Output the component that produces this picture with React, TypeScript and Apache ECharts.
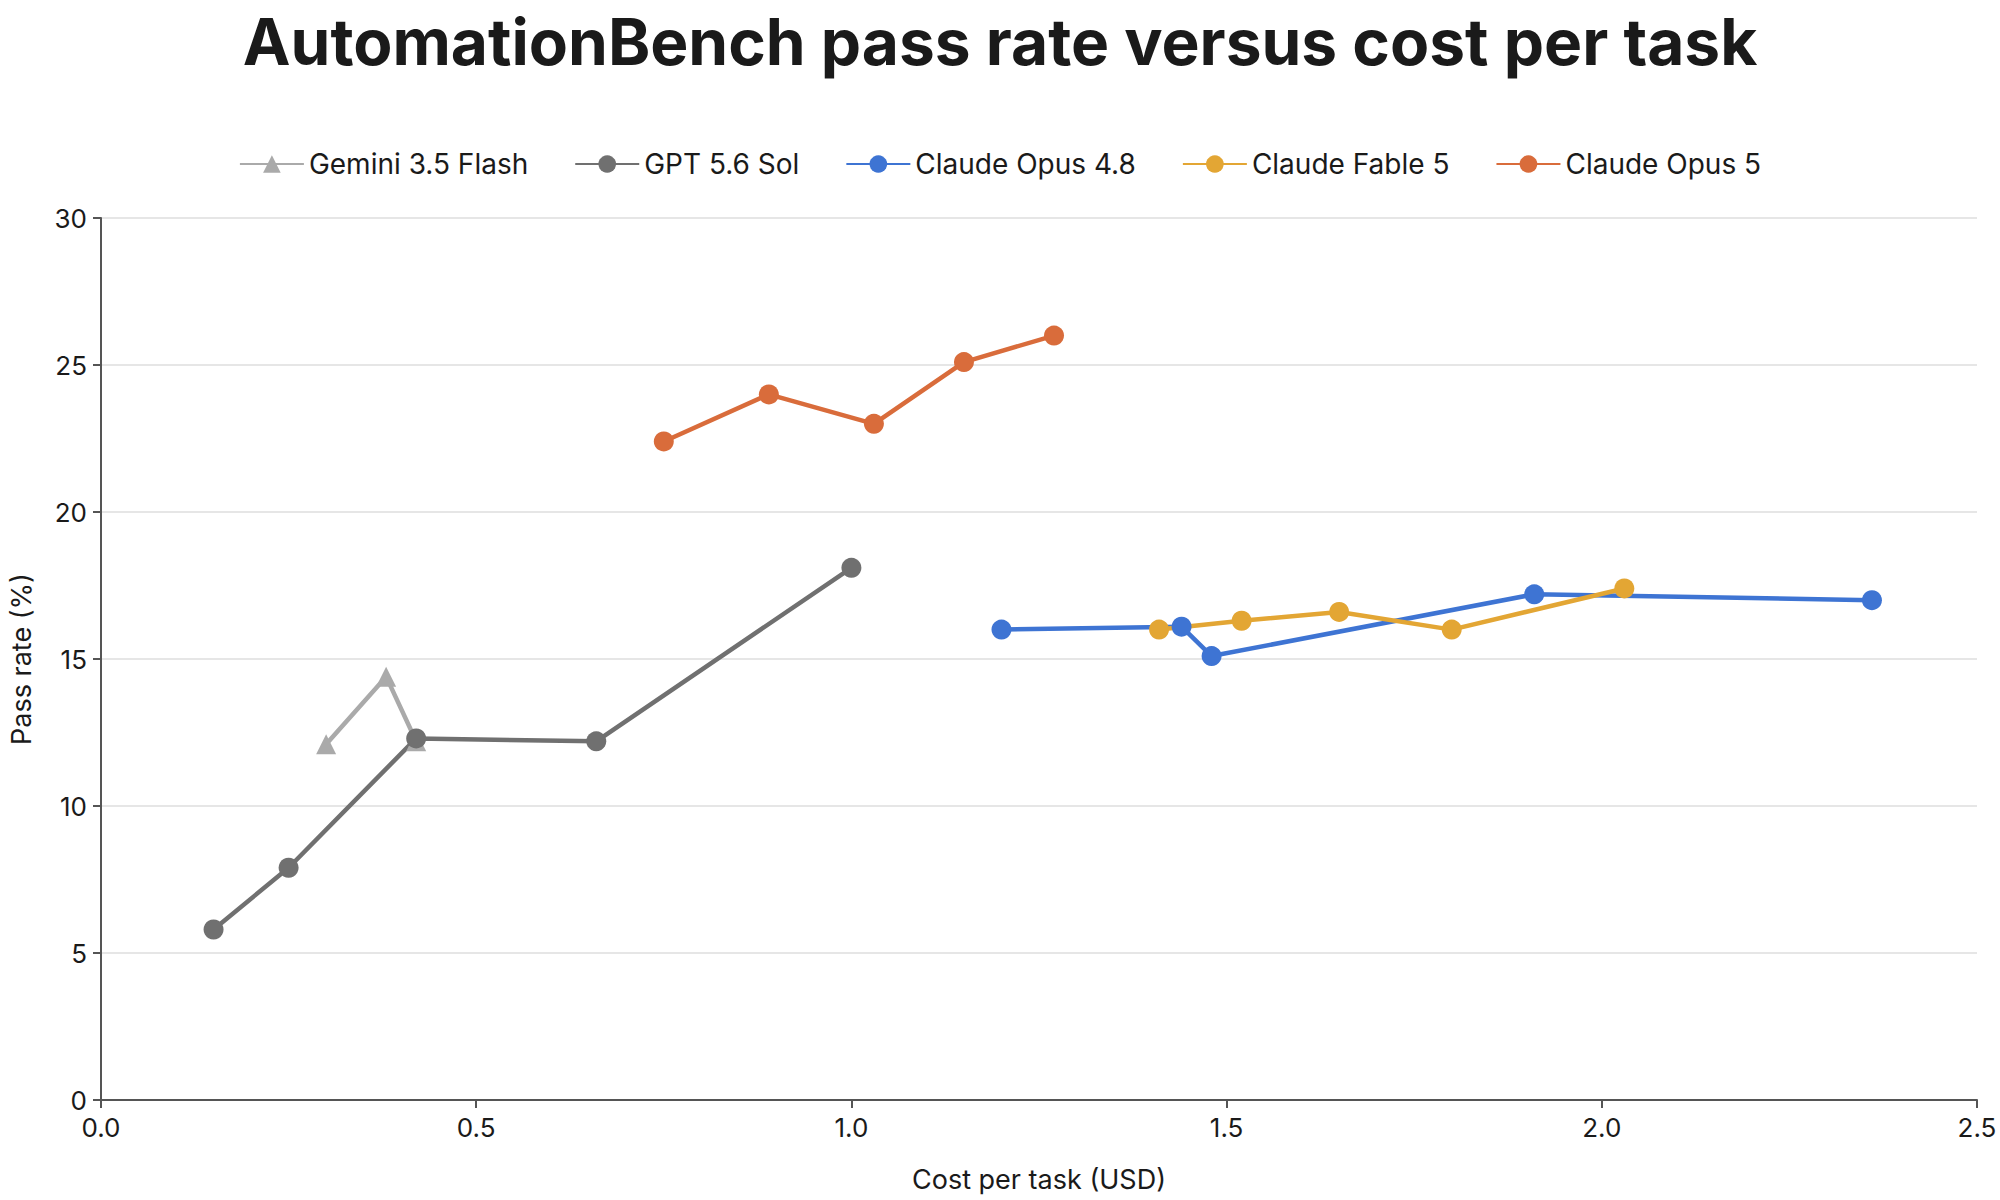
import { useEffect, useRef } from 'react';
import * as echarts from 'echarts';

const geminiFlash = [[0.30, 12.1], [0.38, 14.4], [0.42, 12.2]];
const gptSol = [[0.15, 5.8], [0.25, 7.9], [0.42, 12.3], [0.66, 12.2], [1.0, 18.1]];
const opus48 = [[1.20, 16.0], [1.44, 16.1], [1.48, 15.1], [1.91, 17.2], [2.36, 17.0]];
const fable5 = [[1.41, 16.0], [1.52, 16.3], [1.65, 16.6], [1.80, 16.0], [2.03, 17.4]];
const opus5 = [[0.75, 22.4], [0.89, 24.0], [1.03, 23.0], [1.15, 25.1], [1.27, 26.0]];

const seriesDefs = [
  { name: 'Gemini 3.5 Flash', data: geminiFlash, color: '#aaaaaa', symbol: 'triangle' },
  { name: 'GPT 5.6 Sol', data: gptSol, color: '#707070', symbol: 'circle' },
  { name: 'Claude Opus 4.8', data: opus48, color: '#3e74d3', symbol: 'circle' },
  { name: 'Claude Fable 5', data: fable5, color: '#e3a634', symbol: 'circle' },
  { name: 'Claude Opus 5', data: opus5, color: '#d96c3b', symbol: 'circle' },
];

const font = 'Inter, "Noto Sans", sans-serif';

export default function App() {
  const chartRef = useRef<HTMLDivElement>(null);

  useEffect(() => {
    document.body.style.margin = '0';
    if (!chartRef.current) return;
    const chart = echarts.init(chartRef.current, null, { renderer: 'svg' });

    chart.setOption({
      animation: false,
      textStyle: { fontFamily: font },
      title: {
        text: 'AutomationBench pass rate versus cost per task',
        left: 'center',
        top: 4,
        textStyle: { fontSize: 64, fontWeight: 'bold', color: '#1a1a1a', fontFamily: font },
      },
      legend: {
        top: 145,
        left: 'center',
        itemWidth: 64,
        itemHeight: 22,
        itemGap: 46,
        textStyle: { fontSize: 28, color: '#1a1a1a' },
        data: seriesDefs.map((s) => s.name),
      },
      grid: { left: 93, right: 23, top: 218, bottom: 100 },
      xAxis: {
        type: 'value',
        min: 0,
        max: 2.5,
        interval: 0.5,
        name: 'Cost per task (USD)',
        nameLocation: 'middle',
        nameGap: 66,
        nameTextStyle: { fontSize: 27, color: '#1a1a1a' },
        axisLine: { lineStyle: { color: '#555', width: 2 } },
        axisTick: { show: true, length: 8, lineStyle: { color: '#555', width: 2 } },
        axisLabel: { fontSize: 26, color: '#1a1a1a', margin: 14, formatter: (v: number) => v.toFixed(1) },
        splitLine: { show: false },
      },
      yAxis: {
        type: 'value',
        min: 0,
        max: 30,
        interval: 5,
        name: 'Pass rate (%)',
        nameLocation: 'middle',
        nameGap: 66,
        nameTextStyle: { fontSize: 27, color: '#1a1a1a' },
        axisLine: { show: true, lineStyle: { color: '#555', width: 2 } },
        axisTick: { show: true, length: 8, lineStyle: { color: '#555', width: 2 } },
        axisLabel: { fontSize: 26, color: '#1a1a1a', margin: 14 },
        splitLine: { lineStyle: { color: '#dedede', width: 1.5 } },
      },
      series: seriesDefs.map((s) => ({
        name: s.name,
        type: 'line',
        data: s.data,
        symbol: s.symbol,
        symbolSize: 20,
        color: s.color,
        lineStyle: { width: 4.5, color: s.color },
        itemStyle: { color: s.color },
      })),
    });

    return () => chart.dispose();
  }, []);

  return <div ref={chartRef} style={{ width: 2000, height: 1200 }} />;
}
